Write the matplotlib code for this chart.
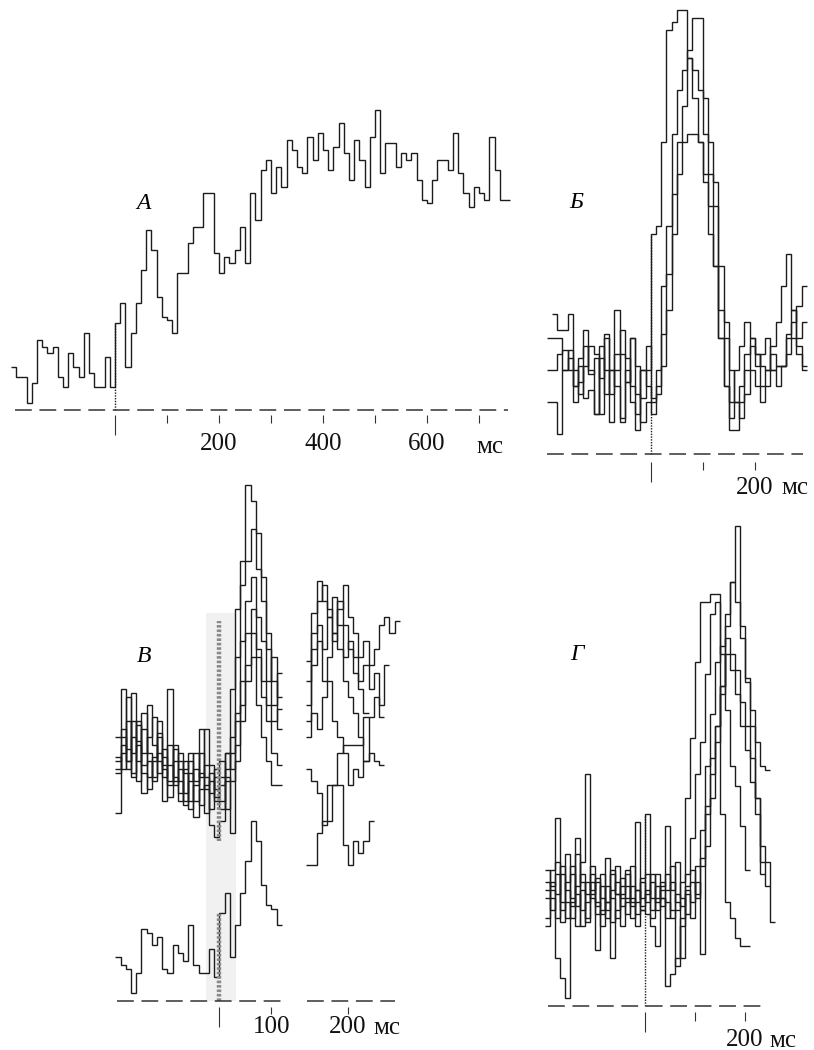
import numpy as np
import matplotlib.pyplot as plt

plt.rcParams['font.family'] = ['Liberation Serif', 'DejaVu Serif']

W, H = 814, 1050
BIN = 10  # ms per bin

# --- A: single unit, bins from -200 ms
a_start = -200
a_counts = [13, 10, 10, 2, 8, 21, 19, 17, 19, 10, 7, 17, 13, 10, 23, 11, 7, 7, 16, 7,
            26, 32, 13, 23, 32, 42, 54, 48, 34, 28,
            27, 23, 41, 41, 50, 55, 55, 65, 65, 47,
            41, 46, 44, 48, 55, 44, 65, 57, 72, 75,
            65, 73, 67, 81, 78, 73, 71, 82, 75, 83,
            78, 72, 79, 86, 77, 69, 81, 75, 67, 82,
            90, 71, 80, 80, 73, 77, 75, 77, 69, 63,
            62, 69, 75, 75, 72, 83, 71, 65, 61, 67,
            65, 63, 82, 72, 63, 63]

# --- Б: four units
b_starts = [-190, -200, -200, -200]
b1 = [35, 31, 31, 35, 21, 15, 27, 20, 24, 19, 30, 15, 36, 25, 18, 29, 22, 14, 21,
      55, 57, 78, 106, 108, 111, 111, 99, 89, 78, 70, 62, 47, 29, 17, 13, 21, 27, 33, 29,
      25, 22, 21, 27, 33, 42, 50, 36, 29, 33]
b2 = [29, 29, 29, 21, 26, 17, 24, 31, 21, 10, 27, 21, 8, 21, 31, 24, 13, 10, 21, 27,
      14, 21, 42, 57, 80, 91, 96, 101, 109, 109, 89, 78, 68, 47, 33, 6, 6, 13, 21, 29,
      25, 17, 21, 25, 22, 22, 30, 33, 37, 42]
b3 = [21, 21, 25, 26, 21, 13, 18, 22, 27, 25, 10, 29, 21, 25, 9, 21, 17, 6, 21, 17,
      10, 17, 30, 45, 65, 78, 87, 99, 96, 91, 80, 70, 62, 36, 29, 21, 13, 17, 25, 27,
      22, 25, 29, 21, 17, 22, 29, 36, 27, 21]
b4 = [13, 13, 5, 21, 24, 17, 22, 14, 16, 10, 24, 15, 21, 17, 8, 18, 29, 15, 8, 13,
      13, 15, 22, 36, 55, 70, 78, 80, 80, 78, 68, 55, 47, 29, 17, 9, 13, 9, 15, 21,
      17, 13, 17, 21, 22, 22, 25, 29, 25, 22]

# --- В: upper group (six units), left part -200..120 ms, right part from 120 ms
u1 = [66, 78, 60, 70, 65, 62, 74, 64, 60, 56, 78, 55, 58, 52, 60, 55, 68, 56, 52, 58,
      56, 62, 78, 98, 110, 129, 125, 117, 106, 92, 80, 68]
u2 = [61, 58, 76, 62, 70, 57, 53, 60, 66, 59, 64, 54, 60, 57, 50, 62, 56, 68, 59, 50,
      54, 58, 66, 86, 104, 110, 118, 108, 100, 88, 74, 82]
u3 = [60, 66, 58, 77, 60, 68, 62, 56, 70, 61, 55, 63, 50, 58, 62, 50, 57, 53, 48, 56,
      50, 55, 62, 72, 90, 100, 106, 96, 90, 80, 86, 76]
u4 = [58, 62, 70, 56, 64, 59, 66, 71, 57, 63, 54, 60, 62, 49, 55, 58, 49, 54, 57, 53,
      48, 62, 58, 70, 80, 92, 98, 88, 80, 74, 70, 73]
u5 = [57, 64, 60, 66, 55, 72, 56, 61, 62, 50, 59, 56, 52, 60, 48, 54, 62, 47, 55, 51,
      60, 48, 55, 64, 74, 84, 92, 86, 76, 70, 62, 59]
u6 = [47, 68, 63, 57, 69, 52, 60, 55, 67, 58, 51, 64, 55, 50, 57, 46, 53, 59, 44, 41,
      45, 56, 42, 60, 70, 80, 86, 74, 66, 60, 54, 54]
r1 = [80, 97, 105, 100, 96, 90, 98, 104, 96, 92, 86, 90, 84, 88, 94, 96, 92, 95]
r2 = [74, 92, 100, 104, 98, 92, 100, 94, 88, 86, 80, 84, 78, 82, 74, 84]
r3 = [85, 88, 94, 88, 96, 101, 94, 86, 90, 82, 78, 72]
r4 = [70, 84, 90, 80, 86, 92, 88, 80, 76, 72, 66, 60, 62, 60, 59]
r5 = [66, 72, 68, 76, 80, 70, 66, 62, 54, 58, 56, 60, 71, 76, 71]
r6 = [58, 55, 52, 44, 54, 54, 62, 64, 64, 64, 64, 71]
# В: lower single unit
low_left = [11, 9, 8, 2, 7, 18, 17, 14, 16, 8, 7, 14, 12, 10, 19, 9, 7, 7, 13, 6,
            22, 27, 11, 19, 27, 35, 45, 40, 29, 24, 23, 19]
low_right = [34, 34, 42, 45, 45, 54, 54, 39, 34, 40, 37, 40, 45]
v_split = 120
v_band = (-26, 33, 97)        # shaded stimulus window, ms / ms / top
v_marker = (40, 95)           # thick grey marker on the upper group

# --- Г: six units, bins from -200 ms
g1 = [34, 30, 36, 26, 22, 33, 28, 24, 31, 27, 25, 33, 22, 29, 35, 27, 23, 30, 26, 32,
      48, 27, 33, 25, 29, 35, 24, 31, 52, 67, 86, 101, 101, 103, 103, 48, 26, 22, 17, 15, 15]
g2 = [29, 34, 47, 24, 38, 27, 20, 33, 28, 35, 23, 30, 26, 21, 31, 28, 33, 25, 29, 24,
      28, 33, 26, 30, 45, 29, 36, 27, 23, 31, 28, 35, 40, 52, 66, 80, 95, 106, 120, 95,
      82, 74, 66, 60, 59]
g3 = [31, 27, 22, 35, 29, 25, 42, 20, 26, 33, 14, 24, 37, 27, 22, 30, 34, 26, 23, 31,
      26, 31, 24, 29, 33, 22, 28, 25, 30, 34, 27, 37, 48, 62, 70, 78, 98, 106, 101, 92,
      81, 70, 52, 33]
g4 = [20, 31, 28, 33, 26, 22, 30, 36, 58, 29, 32, 27, 24, 33, 28, 20, 26, 35, 29, 27,
      33, 24, 30, 27, 22, 31, 26, 12, 29, 22, 35, 44, 60, 73, 86, 90, 92, 88, 84, 76,
      70, 62, 52, 40, 36, 21]
g5 = [27, 24, 33, 21, 31, 35, 25, 29, 22, 31, 26, 20, 30, 12, 24, 32, 27, 22, 46, 25,
      29, 22, 27, 31, 26, 24, 10, 22, 28, 26, 31, 13, 50, 58, 70, 80, 88, 84, 78, 70,
      64, 56, 48, 36, 30]
g6 = [22, 29, 12, 7, 2, 26, 38, 31, 21, 28, 31, 23, 26, 34, 28, 25, 30, 27, 20, 24,
      23, 20, 15, 27, 5, 8, 12, 20, 33, 42, 58, 66, 83, 98, 101, 88, 74, 60, 55, 45, 34]

INK = '#1c1c1c'
fig = plt.figure(figsize=(W / 100, H / 100), dpi=100)


def panel(box, zero, base, ppm, ppu):
    # box in pixels; zero = x pixel of t=0, base = y pixel of zero count
    x0, y0, x1, y1 = box
    ax = fig.add_axes([x0 / W, 1 - y1 / H, (x1 - x0) / W, (y1 - y0) / H])
    ax.set_xlim((x0 - zero) / ppm, (x1 - zero) / ppm)
    ax.set_ylim((base - y1) / ppu, (base - y0) / ppu)
    ax.patch.set_visible(False)
    for sp in ax.spines.values():
        sp.set_visible(False)
    ax.set_yticks([])
    return ax


def time_axis(ax, major, labels, minor, gap, pad, ticklen):
    ax.spines['bottom'].set_position(('data', -gap))
    ax.set_xticks(major)
    ax.set_xticklabels(labels)
    ax.set_xticks(minor, minor=True)
    ax.tick_params(axis='x', which='major', length=ticklen, width=0.8, color='#333',
                   pad=pad, labelsize=18, labelcolor='#111')
    ax.tick_params(axis='x', which='minor', length=14.5, width=0.8, color='#333')


def trace(ax, start, vals):
    edges = start + BIN * np.arange(len(vals) + 1)
    ax.stairs(vals, edges, baseline=None, color=INK, lw=1.0)


def baseline(ax, t0, t1):
    ax.hlines(0, t0, t1, colors='#333', linestyles=(0, (11, 5)), lw=1.1)


# A
ax = panel((0, 0, 530, 470), 115, 410, 0.52, 10 / 3)
trace(ax, a_start, a_counts)
ax.vlines(0, 0, a_counts[-a_start // BIN], colors=INK, linestyles=(0, (1, 1)), lw=1.0)
baseline(ax, -192, 755)
time_axis(ax, [100, 200, 300, 400, 500, 600, 700],
          ['', '200', '', '400', '', '600', ''], [0], 1.5, 7, 5.8)
ax.text(721, -12.9, 'мс', fontsize=18, ha='center', va='baseline', color='#111')
ax.text(54, 62, 'A', fontsize=17, fontstyle='italic', ha='center', va='center')

# Б
ax = panel((530, 0, 814, 500), 650.7, 454, 0.52, 4)
for s, vals in zip(b_starts, [b1, b2, b3, b4]):
    trace(ax, s, vals)
ax.vlines(0, 0, b1[-b_starts[0] // BIN], colors=INK, linestyles=(0, (1, 1)), lw=1.0)
baseline(ax, -199, 293)
time_axis(ax, [100, 200], ['', '200'], [0], 1.9, 5, 5.8)
ax.text(277, -10, 'мс', fontsize=18, ha='center', va='baseline', color='#111')
ax.text(-144, 63, 'Б', fontsize=17, fontstyle='italic', ha='center', va='center')

# В (broken time axis: right part shifted)
axl = panel((90, 470, 296, 1050), 219.3, 1000.7, 0.52, 4)
axr = panel((296, 470, 430, 1050), 243.7, 1000.7, 0.52, 4)
axl.fill_between(v_band[:2], 0, v_band[2], color='#f1f1f1', lw=0, zorder=0)
for vals in [u1, u2, u3, u4, u5, u6]:
    trace(axl, -200, vals)
for vals in [r1, r2, r3, r4, r5, r6]:
    trace(axr, v_split, vals)
trace(axl, -200, low_left)
trace(axr, v_split, low_right)
axl.vlines(0, *v_marker, colors='#8a8a8a', linestyles=(0, (0.6, 0.4)), lw=3.2)
axl.vlines(0, 0, low_left[20], colors='#8a8a8a', linestyles=(0, (0.6, 0.4)), lw=3.2)
baseline(axl, -197, 122)
baseline(axr, 122, 291)
time_axis(axl, [100], ['100'], [0], 1.5, 1.5, 5)
time_axis(axr, [200], ['200'], [], 1.5, 1.5, 5)
axr.text(276, -8.3, 'мс', fontsize=18, ha='center', va='baseline', color='#111')
axl.text(-145, 86, 'В', fontsize=17, fontstyle='italic', ha='center', va='center')

# Г
ax = panel((530, 500, 814, 1050), 645, 1006, 0.5, 4)
for vals in [g1, g2, g3, g4, g5, g6]:
    trace(ax, -200, vals)
ax.vlines(0, 0, g1[20], colors=INK, linestyles=(0, (1, 1)), lw=1.0)
baseline(ax, -195, 242)
time_axis(ax, [100, 200], ['', '200'], [0], 1.5, 6, 6.5)
ax.text(276, -10.25, 'мс', fontsize=18, ha='center', va='baseline', color='#111')
ax.text(-136, 88, 'Г', fontsize=17, fontstyle='italic', ha='center', va='center')

fig.savefig('out.png', dpi=100)
